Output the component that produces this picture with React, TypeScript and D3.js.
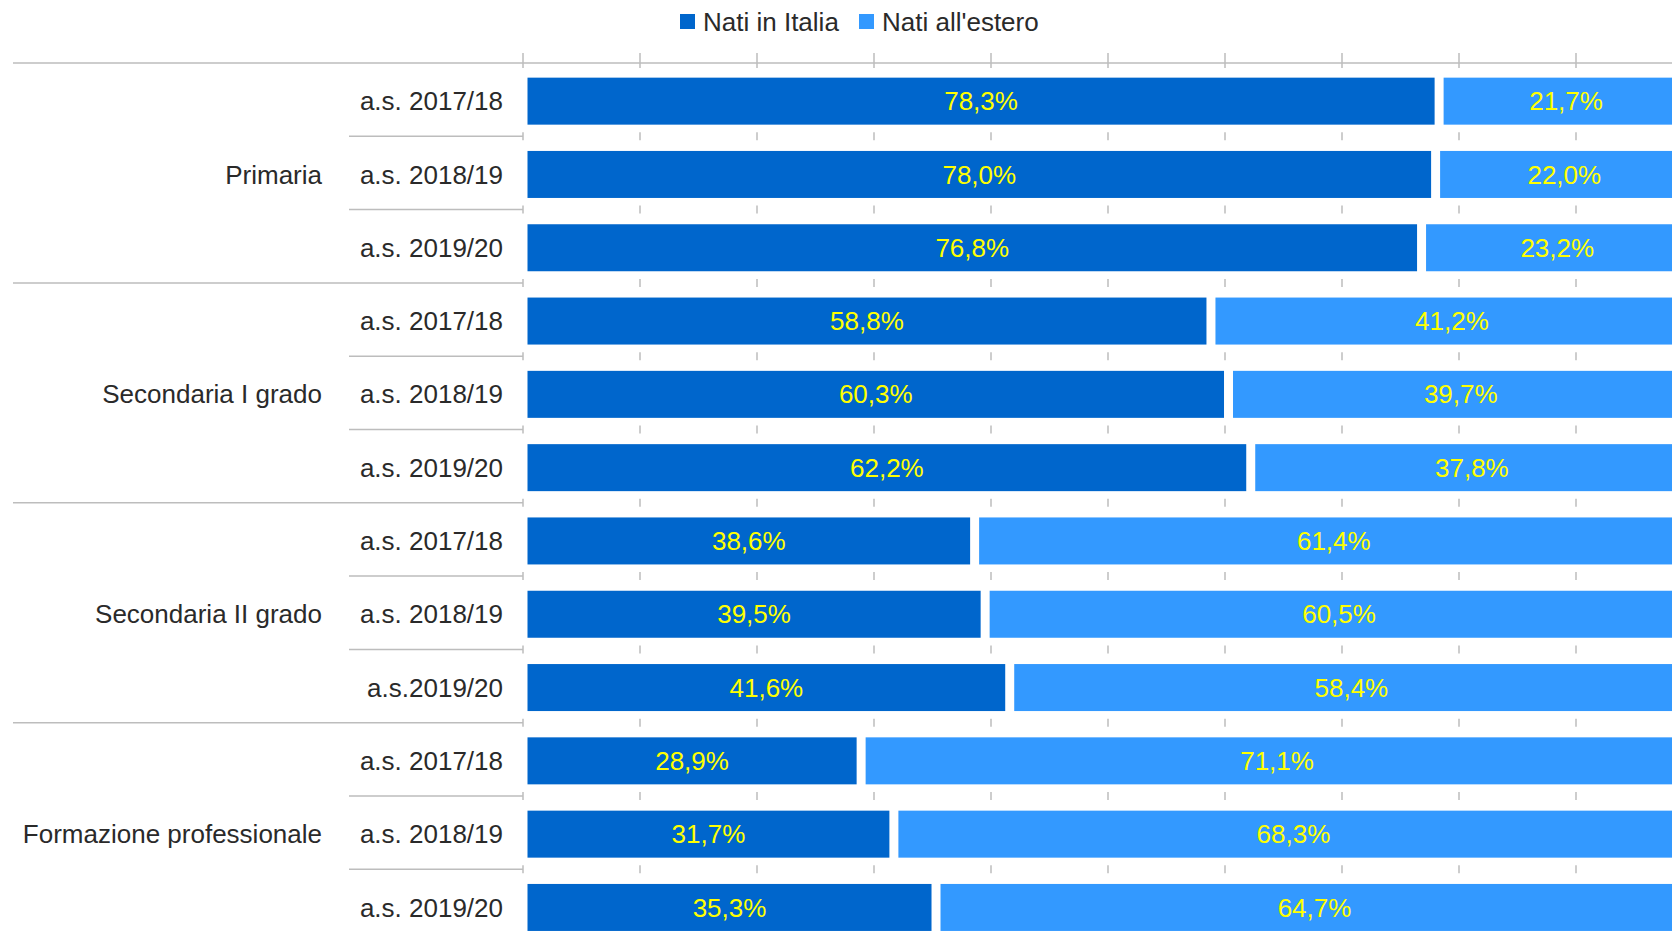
import React, { useEffect, useRef } from "react";
import * as d3 from "d3";

const groups = ["Primaria", "Secondaria I grado", "Secondaria II grado", "Formazione professionale"];
const yearLabels = [
  "a.s. 2017/18", "a.s. 2018/19", "a.s. 2019/20",
  "a.s. 2017/18", "a.s. 2018/19", "a.s. 2019/20",
  "a.s. 2017/18", "a.s. 2018/19", "a.s.2019/20",
  "a.s. 2017/18", "a.s. 2018/19", "a.s. 2019/20",
];
const natiItalia = [78.3, 78.0, 76.8, 58.8, 60.3, 62.2, 38.6, 39.5, 41.6, 28.9, 31.7, 35.3];
const natiEstero = [21.7, 22.0, 23.2, 41.2, 39.7, 37.8, 61.4, 60.5, 58.4, 71.1, 68.3, 64.7];
const seriesNames = ["Nati in Italia", "Nati all'estero"];
const colors = ["#0066cc", "#3399ff"];
const xTicks = d3.range(0, 101, 10);

const fmt = (v: number) => v.toFixed(1).replace(".", ",") + "%";

export default function App() {
  const svgRef = useRef<SVGSVGElement>(null);

  useEffect(() => {
    if (!svgRef.current) return;
    const width = 1672;
    const height = 937;
    const svg = d3.select(svgRef.current);
    svg.attr("width", width).attr("height", height);
    svg.selectAll("*").remove();

    const top = 63;
    const band = 73.3;
    const rows = d3.range(yearLabels.length);
    const x = d3.scaleLinear().domain([0, 100]).range([523, 1693]);
    const y = d3.scaleBand<number>().domain(rows).range([top, top + band * rows.length]);
    const barH = 47;
    const inset = 4.5;
    const shift = 1.5;
    const font = "'Liberation Sans', Arial, sans-serif";
    const lineColor = "#bdbdbd";
    const textColor = "#2a2a2a";

    // axis line + top ticks
    svg.append("line")
      .attr("x1", 13).attr("x2", width).attr("y1", top).attr("y2", top)
      .style("stroke", lineColor).style("stroke-width", 1.5);
    xTicks.forEach((t) => {
      svg.append("line")
        .attr("x1", x(t)).attr("x2", x(t)).attr("y1", top - 10).attr("y2", top + 5)
        .style("stroke", lineColor).style("stroke-width", 1.5);
    });

    // row boundaries
    rows.slice(1).forEach((r) => {
      const by = y(r)!;
      const isGroup = r % 3 === 0;
      svg.append("line")
        .attr("x1", isGroup ? 13 : 349).attr("x2", x(0)).attr("y1", by).attr("y2", by)
        .style("stroke", lineColor).style("stroke-width", 1.5);
      xTicks.forEach((t) => {
        svg.append("line")
          .attr("x1", x(t)).attr("x2", x(t)).attr("y1", by - 4).attr("y2", by + 4)
          .style("stroke", lineColor).style("stroke-width", 1.5);
      });
    });

    // bars
    rows.forEach((r) => {
      const segs = [
        [0, natiItalia[r]],
        [natiItalia[r], natiItalia[r] + natiEstero[r]],
      ];
      const by = y(r)! + (band - barH) / 2 + shift;
      segs.forEach(([a, b], i) => {
        svg.append("rect")
          .attr("x", x(a) + inset)
          .attr("y", by)
          .attr("width", x(b) - x(a) - inset * 2)
          .attr("height", barH)
          .style("fill", colors[i]);
        svg.append("text")
          .attr("x", (x(a) + x(b)) / 2)
          .attr("y", by + barH / 2)
          .attr("dy", "0.35em")
          .attr("text-anchor", "middle")
          .style("font-family", font)
          .style("font-size", "26px")
          .style("fill", "#ffff00")
          .text(fmt(i === 0 ? natiItalia[r] : natiEstero[r]));
      });

      svg.append("text")
        .attr("x", 503)
        .attr("y", y(r)! + band / 2 + shift)
        .attr("dy", "0.35em")
        .attr("text-anchor", "end")
        .style("font-family", font)
        .style("font-size", "26px")
        .style("fill", textColor)
        .text(yearLabels[r]);
    });

    // group labels
    groups.forEach((g, i) => {
      svg.append("text")
        .attr("x", 322)
        .attr("y", y(i * 3 + 1)! + band / 2 + shift)
        .attr("dy", "0.35em")
        .attr("text-anchor", "end")
        .style("font-family", font)
        .style("font-size", "26px")
        .style("fill", textColor)
        .text(g);
    });

    // legend
    const legendX = [680, 859];
    seriesNames.forEach((name, i) => {
      svg.append("rect")
        .attr("x", legendX[i]).attr("y", 14).attr("width", 15).attr("height", 15)
        .style("fill", colors[i]);
      svg.append("text")
        .attr("x", legendX[i] + 23)
        .attr("y", 22)
        .attr("dy", "0.35em")
        .style("font-family", font)
        .style("font-size", "26px")
        .style("fill", textColor)
        .text(name);
    });
  }, []);

  return (
    <svg
      ref={svgRef}
      style={{ position: "absolute", left: 0, top: 0, background: "#fff", overflow: "hidden" }}
    />
  );
}
